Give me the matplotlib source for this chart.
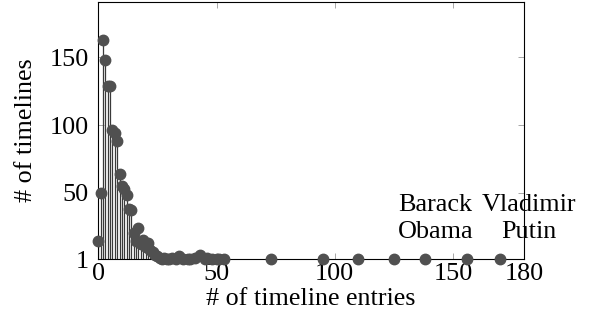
import numpy as np
import matplotlib.pyplot as plt

plt.rcParams["font.family"] = ["Liberation Serif", "DejaVu Serif"]
plt.rcParams["mathtext.fontset"] = "stix"

# number of timeline entries -> number of timelines
entries = [0, 1, 2, 3, 4, 5, 6, 7, 8, 9, 10, 11, 12, 13, 14, 15, 16, 17, 18,
           19, 20, 21, 22, 23, 24, 25, 26, 27, 28, 29, 30, 31, 33, 34, 36, 38,
           39, 41, 43, 45, 46, 48, 50, 51, 53, 73, 95, 110, 125, 138, 156, 170]
timelines = [14, 50, 163, 148, 129, 129, 96, 94, 88, 64, 55, 53, 48, 38, 37,
             20, 14, 24, 12, 15, 10, 13, 8, 6, 4, 3, 2, 1, 2, 1, 1, 2, 1, 3,
             1, 1, 1, 2, 4, 1, 2, 1, 1, 1, 1, 1, 1, 1, 1, 1, 1, 1]

xticks = [0, 50, 100, 150, 180]
yticks = [1, 50, 100, 150]
annotations = [(142.5, "Barack\nObama"), (182, "Vladimir\nPutin")]

fig = plt.figure(figsize=(5.92, 3.31), dpi=100)
ax = fig.add_axes([0.166, 0.2175, 0.719, 0.7765])

grey = "#505050"
ax.vlines(entries, 1, timelines, color="#3a3a3a", lw=0.9, zorder=2)
ax.plot(entries, timelines, "o", color=grey, ms=7.5, clip_on=False, zorder=3)

ax.set_xlim(0, 180)
ax.set_ylim(1, 191)
ax.set_xticks(xticks)
ax.set_yticks(yticks)
ax.tick_params(direction="in", length=4, width=0.6, color="#999999",
               top=True, right=True, labelsize=18.8)
ax.tick_params(axis="y", pad=7)
ax.tick_params(axis="x", pad=3)
for s in ax.spines.values():
    s.set_linewidth(0.8)

for x, label in annotations:
    ax.text(x, 31, label, ha="center", va="center", fontsize=18.8,
            linespacing=1.25, clip_on=False, zorder=4)

ax.set_xlabel("# of timeline entries", fontsize=18.8, labelpad=2)
ax.set_ylabel("# of timelines", fontsize=18.8, labelpad=9)

fig.savefig("out.png", dpi=100)
